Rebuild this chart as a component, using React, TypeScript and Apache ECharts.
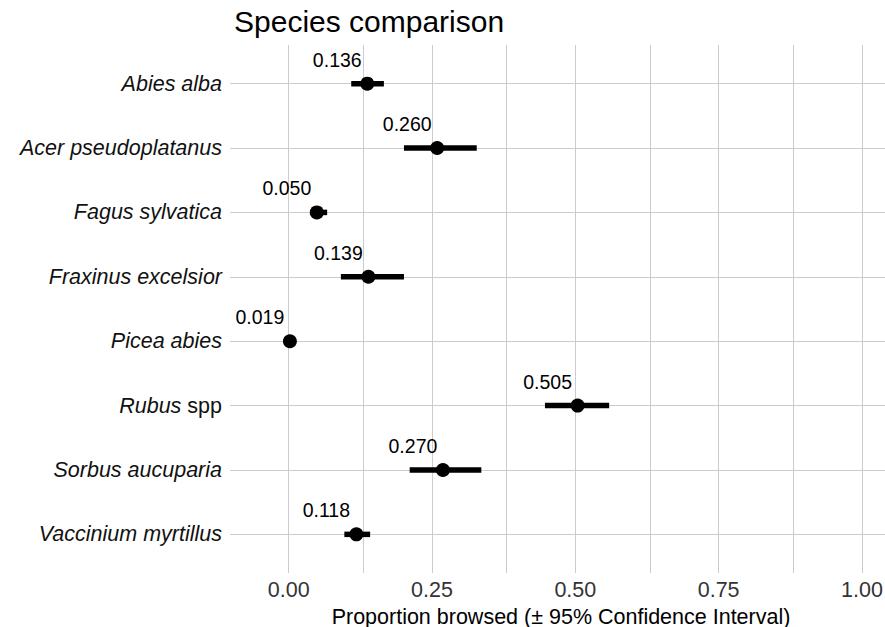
import React, { useEffect, useRef } from "react";
import * as echarts from "echarts";

const species = [
  "Abies alba",
  "Acer pseudoplatanus",
  "Fagus sylvatica",
  "Fraxinus excelsior",
  "Picea abies",
  "Rubus spp",
  "Sorbus aucuparia",
  "Vaccinium myrtillus",
];
const means = [0.137, 0.259, 0.049, 0.139, 0.002, 0.504, 0.269, 0.118];
const lowers = [0.109, 0.201, 0.037, 0.091, 0.0, 0.447, 0.211, 0.097];
const uppers = [0.166, 0.328, 0.067, 0.201, 0.004, 0.559, 0.336, 0.142];
const valueLabels = ["0.136", "0.260", "0.050", "0.139", "0.019", "0.505", "0.270", "0.118"];
const xTicks = [0, 0.25, 0.5, 0.75, 1];
const xMinorGrid = [0.125, 0.375, 0.625, 0.875];

const FONT = "Liberation Sans, Arial, sans-serif";
const GRID = "#cccccc";

export default function App() {
  const ref = useRef<HTMLDivElement>(null);
  useEffect(() => {
    if (!ref.current) return;
    const chart = echarts.init(ref.current, undefined, { renderer: "svg" });
    const yIdx = species.map((_, i) => i);
    chart.setOption({
      animation: false,
      backgroundColor: "#ffffff",
      textStyle: { fontFamily: FONT },
      title: {
        text: "Species comparison",
        left: 229,
        top: 1,
        textStyle: { fontFamily: FONT, fontSize: 30, fontWeight: "normal", color: "#000" },
      },
      grid: {
        left: 230,
        top: 45,
        width: 662,
        height: 528,
        containLabel: false,
        outerBoundsMode: "none",
      },
      xAxis: {
        type: "value",
        min: -0.1025,
        max: 1.0525,
        minInterval: 0.25,
        maxInterval: 0.25,
        name: "Proportion browsed (± 95% Confidence Interval)",
        nameLocation: "middle",
        nameGap: 25,
        nameTextStyle: { fontFamily: FONT, fontSize: 21.5, lineHeight: 22, color: "#000" },
        axisLine: { show: false },
        axisTick: {
          show: true,
          length: 4,
          customValues: xTicks,
          lineStyle: { color: GRID },
        },
        axisLabel: {
          customValues: xTicks,
          margin: 6,
          fontFamily: FONT,
          fontSize: 21.5,
          color: "#333",
          formatter: (v: number) => v.toFixed(2),
        },
        splitLine: { show: false },
      },
      yAxis: {
        type: "value",
        inverse: true,
        min: -0.6,
        max: 7.6,
        minInterval: 1,
        maxInterval: 1,
        axisLine: { show: false },
        axisTick: {
          show: true,
          length: 5,
          customValues: yIdx,
          lineStyle: { color: GRID },
        },
        axisLabel: {
          customValues: yIdx,
          margin: 8,
          fontFamily: FONT,
          fontSize: 21.5,
          color: "#111",
          formatter: (v: number) => {
            const i = Math.round(v);
            if (Math.abs(v - i) > 1e-6 || i < 0 || i >= species.length) return "";
            const name = species[i];
            if (name.endsWith(" spp")) return "{it|" + name.slice(0, -4) + "} {up|spp}";
            return "{it|" + name + "}";
          },
          rich: {
            it: { fontStyle: "italic", fontFamily: FONT, fontSize: 21.5, color: "#111" },
            up: { fontStyle: "normal", fontFamily: FONT, fontSize: 21.5, color: "#111" },
          },
        },
        splitLine: { show: false },
      },
      series: [
        {
          type: "custom",
          z: 3,
          data: species.map((_, i) => [i, lowers[i], uppers[i]]),
          encode: { x: [1, 2], y: 0 },
          renderItem: (params: any, api: any) => {
            const y = api.value(0);
            const p1 = api.coord([api.value(1), y]);
            const p2 = api.coord([api.value(2), y]);
            return {
              type: "line",
              shape: { x1: p1[0], y1: p1[1], x2: p2[0], y2: p2[1] },
              style: { stroke: "#000", lineWidth: 5.5, lineCap: "butt" },
            };
          },
          markLine: {
            silent: true,
            symbol: "none",
            z: 1,
            label: { show: false },
            lineStyle: { color: GRID, width: 1, type: "solid" },
            data: [
              ...xTicks.map((v) => ({ xAxis: v })),
              ...xMinorGrid.map((v) => ({ xAxis: v })),
              ...yIdx.map((v) => ({ yAxis: v })),
            ],
          },
        },
        {
          type: "scatter",
          z: 4,
          symbol: "circle",
          symbolSize: 14,
          itemStyle: { color: "#000", opacity: 1 },
          data: means.map((m, i) => [m, i]),
          label: {
            show: true,
            position: "top",
            distance: 0,
            offset: [-30, -7],
            fontFamily: FONT,
            fontSize: 19.5,
            color: "#000",
            opacity: 1,
            formatter: (p: any) => valueLabels[p.dataIndex],
          },
        },
      ],
    });
    return () => chart.dispose();
  }, []);
  return (
    <div
      ref={ref}
      style={{ position: "fixed", left: 0, top: 0, width: 885, height: 627, background: "#fff" }}
    />
  );
}
